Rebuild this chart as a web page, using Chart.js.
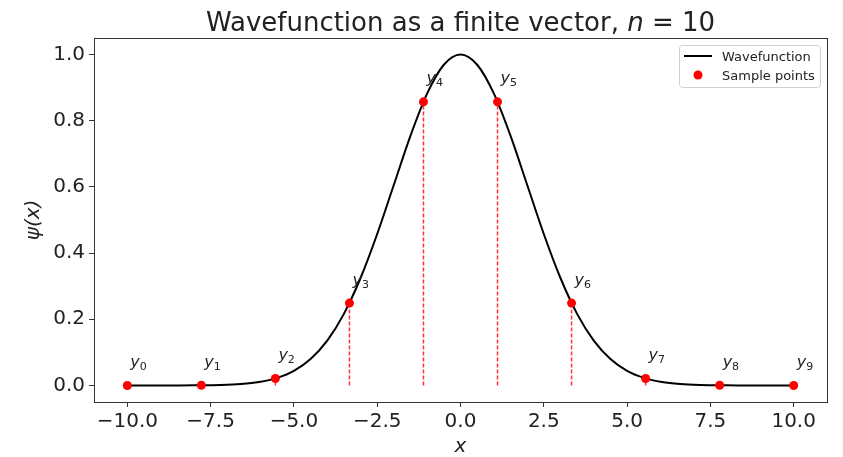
<!DOCTYPE html>
<html>
<head>
<meta charset="utf-8">
<script src="https://cdn.jsdelivr.net/npm/chart.js@4/dist/chart.umd.min.js"></script>
<style>
  html, body { margin: 0; background: #fff; }
</style>
</head>
<body>
<canvas id="chart" width="843" height="457"></canvas>
<script>
// curve (smooth bell shape), step 0.5
const curveX = [-10, -9.5, -9, -8.5, -8, -7.5, -7, -6.5, -6, -5.5, -5, -4.5, -4, -3.5, -3, -2.5, -2, -1.5, -1, -0.5,
  0, 0.5, 1, 1.5, 2, 2.5, 3, 3.5, 4, 4.5, 5, 5.5, 6, 6.5, 7, 7.5, 8, 8.5, 9, 9.5, 10];
const curveY = [0, 0, 0, 0.0001, 0.0003, 0.0009, 0.0022, 0.0051, 0.0111, 0.0228, 0.0439, 0.0796, 0.1353, 0.2163, 0.3247, 0.4578, 0.6065, 0.7548, 0.8825, 0.9692,
  1.0, 0.9692, 0.8825, 0.7548, 0.6065, 0.4578, 0.3247, 0.2163, 0.1353, 0.0796, 0.0439, 0.0228, 0.0111, 0.0051, 0.0022, 0.0009, 0.0003, 0.0001, 0, 0, 0];

const sampleX = [-10, -7.778, -5.556, -3.333, -1.111, 1.111, 3.333, 5.556, 7.778, 10];
const sampleY = [0, 0.0005, 0.021, 0.249, 0.857, 0.857, 0.249, 0.021, 0.0005, 0];
const sampleNames = ['0', '1', '2', '3', '4', '5', '6', '7', '8', '9'];

const xTicks = [-10, -7.5, -5, -2.5, 0, 2.5, 5, 7.5, 10];
const yTicks = [0, 0.2, 0.4, 0.6, 0.8, 1.0];

const FONT = 'DejaVu Sans';
const TEXT = '#222';
const AXIS = '#333';
const STEM = 'rgba(255, 0, 0, 0.8)';

function fmt(v) {
  return v.toFixed(1).replace('-', '\u2212');
}

const stemSets = sampleX.map((x, i) => ({
  label: 'stem' + i,
  data: [{ x: x, y: 0 }, { x: x, y: sampleY[i] }],
  showLine: true,
  borderColor: STEM,
  backgroundColor: STEM,
  borderWidth: 1.5,
  borderDash: [4, 2],
  pointRadius: 0,
}));

// frame, title, legend and the y_i labels (matplotlib style)
const decor = {
  id: 'decor',
  afterDraw(chart) {
    const ctx = chart.ctx;
    const a = chart.chartArea;
    const xs = chart.scales.x;
    const ys = chart.scales.y;
    ctx.save();

    ctx.strokeStyle = AXIS;
    ctx.lineWidth = 1;
    ctx.strokeRect(Math.round(a.left) + 0.5, Math.round(a.top) + 0.5, Math.round(a.right - a.left), Math.round(a.bottom - a.top));

    // title
    ctx.fillStyle = TEXT;
    ctx.textBaseline = 'alphabetic';
    ctx.textAlign = 'left';
    const parts = [
      ['Wavefunction as a finite vector, ', 'normal'],
      ['n', 'italic'],
      [' = ', 'normal'],
      ['10', 'normal'],
    ];
    let total = 0;
    parts.forEach(p => {
      ctx.font = p[1] + ' 26px "' + FONT + '"';
      p.push(ctx.measureText(p[0]).width);
      total += p[2];
    });
    let tx = (a.left + a.right) / 2 - total / 2;
    parts.forEach(p => {
      ctx.font = p[1] + ' 26px "' + FONT + '"';
      ctx.fillText(p[0], tx, 31);
      tx += p[2];
    });

    // sample labels
    sampleX.forEach((x, i) => {
      const px = xs.getPixelForValue(x) + 3;
      const py = ys.getPixelForValue(sampleY[i] + 0.05) - 2;
      ctx.font = 'italic 16px "' + FONT + '"';
      ctx.fillText('y', px, py);
      const w = ctx.measureText('y').width;
      ctx.font = '11px "' + FONT + '"';
      ctx.fillText(sampleNames[i], px + w, py + 3);
    });

    // legend
    ctx.beginPath();
    ctx.roundRect(679.5, 45.5, 141, 42, 3);
    ctx.fillStyle = 'rgba(255,255,255,0.8)';
    ctx.fill();
    ctx.strokeStyle = '#d0d0d0';
    ctx.lineWidth = 1;
    ctx.stroke();
    ctx.beginPath();
    ctx.moveTo(684, 56);
    ctx.lineTo(712, 56);
    ctx.strokeStyle = '#000';
    ctx.lineWidth = 2;
    ctx.stroke();
    ctx.beginPath();
    ctx.arc(698, 75, 4.5, 0, Math.PI * 2);
    ctx.fillStyle = 'red';
    ctx.fill();
    ctx.fillStyle = TEXT;
    ctx.font = '13px "' + FONT + '"';
    ctx.fillText('Wavefunction', 722, 61);
    ctx.fillText('Sample points', 722, 80);

    ctx.restore();
  },
};

new Chart(document.getElementById('chart'), {
  type: 'scatter',
  data: {
    datasets: [
      {
        label: 'Sample points',
        data: sampleX.map((x, i) => ({ x: x, y: sampleY[i] })),
        backgroundColor: 'red',
        borderColor: 'red',
        borderWidth: 0,
        pointRadius: 4.5,
      },
      {
        label: 'Wavefunction',
        data: curveX.map((x, i) => ({ x: x, y: curveY[i] })),
        showLine: true,
        borderColor: '#000',
        backgroundColor: '#000',
        borderWidth: 2,
        pointRadius: 0,
        cubicInterpolationMode: 'monotone',
      },
      ...stemSets,
    ],
  },
  options: {
    responsive: false,
    animation: false,
    layout: { padding: { top: 38, right: 16, left: 0, bottom: 0 } },
    plugins: {
      legend: { display: false },
      title: { display: false },
      tooltip: { enabled: false },
    },
    scales: {
      x: {
        type: 'linear',
        min: -11,
        max: 11,
        afterBuildTicks: (s) => { s.ticks = xTicks.map(v => ({ value: v })); },
        afterFit: (s) => { s.height = 55; },
        ticks: {
          callback: (v) => fmt(v),
          font: { family: FONT, size: 20 },
          color: TEXT,
          padding: 3,
          maxRotation: 0,
        },
        grid: { drawOnChartArea: false, tickLength: 5, color: AXIS },
        border: { color: AXIS },
        title: {
          display: true,
          text: 'x',
          font: { family: FONT, size: 20, style: 'italic', lineHeight: 1.0 },
          color: TEXT,
          padding: { top: 0, bottom: 0 },
        },
      },
      y: {
        type: 'linear',
        min: -0.05,
        max: 1.05,
        afterBuildTicks: (s) => { s.ticks = yTicks.map(v => ({ value: v })); },
        afterFit: (s) => { s.width = 94; },
        ticks: {
          callback: (v) => fmt(v),
          font: { family: FONT, size: 20 },
          color: TEXT,
          padding: 4,
        },
        grid: { drawOnChartArea: false, tickLength: 5, color: AXIS },
        border: { color: AXIS },
        title: {
          display: true,
          text: '\u03c8(x)',
          font: { family: FONT, size: 20, style: 'italic' },
          color: TEXT,
          padding: { top: 22, bottom: 0 },
        },
      },
    },
  },
  plugins: [decor],
});
</script>
</body>
</html>
